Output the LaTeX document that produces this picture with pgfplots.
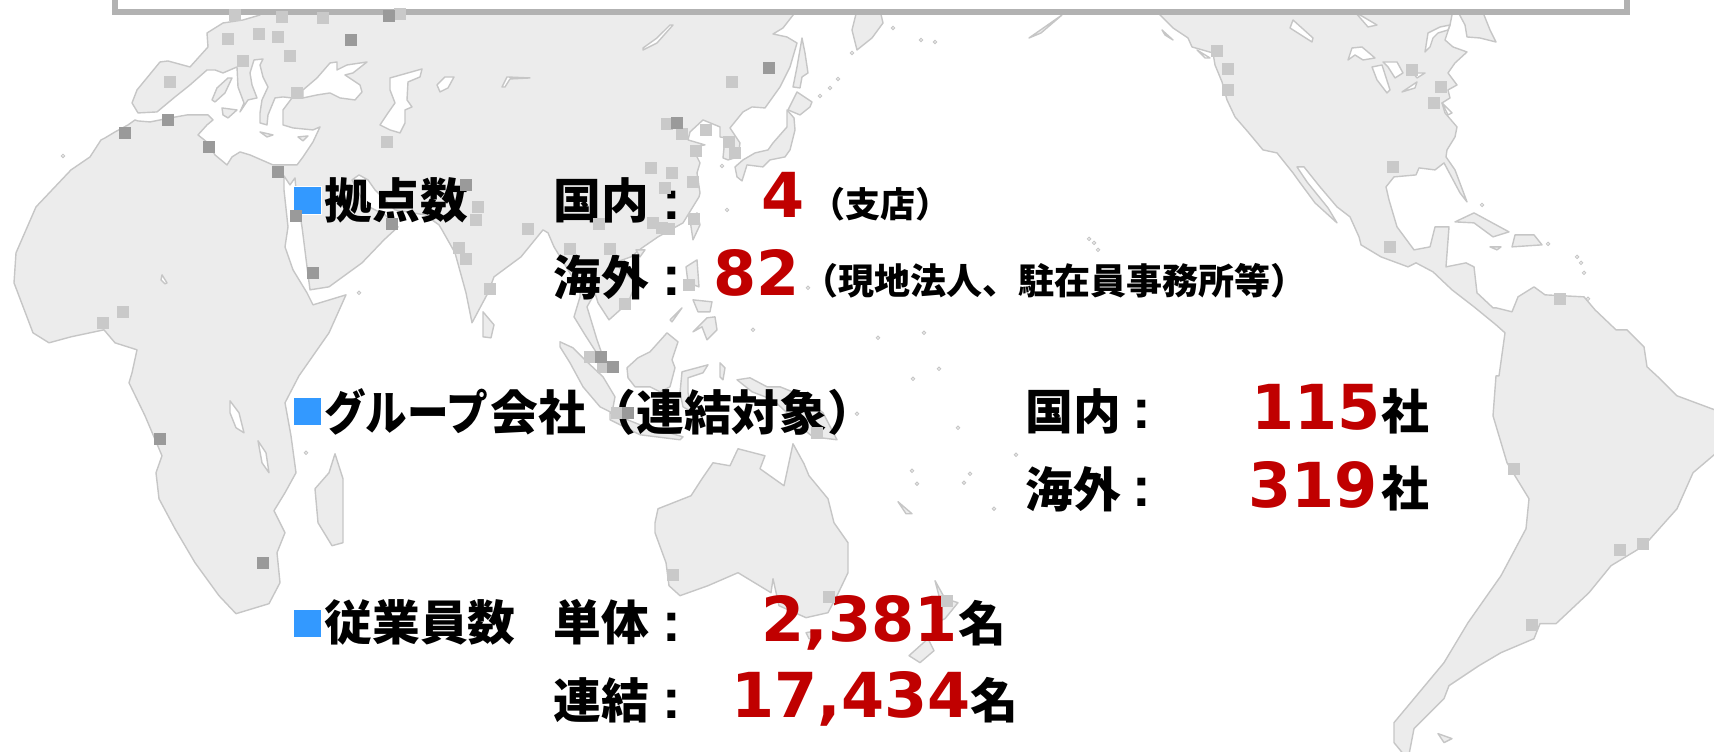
\documentclass[border=0pt]{standalone}
\usepackage{fontspec}
\usepackage{pgfplots}
\pgfplotsset{compat=1.18}
\newfontfamily\cjk{Noto Sans CJK JP}[BoldFont=* Black]
\newfontfamily\num{DejaVu Sans}
\newfontfamily\lat{Liberation Sans}
\definecolor{landc}{HTML}{ECECEC}
\definecolor{edgec}{HTML}{C6C6C6}
\definecolor{sqlight}{HTML}{C9C9C9}
\definecolor{sqdark}{HTML}{9A9A9A}
\definecolor{boxc}{HTML}{B2B2B2}
\definecolor{bluec}{HTML}{3399FF}
\definecolor{redc}{HTML}{C00000}
\newcommand{\KL}[3]{\node[anchor=base west,inner sep=0pt,text=black] at (axis cs:#1,#2) {\fontsize{23.9}{24}\cjk\bfseries #3};}
\newcommand{\KLK}[3]{\node[anchor=base west,inner sep=0pt,text=black,xscale=0.87] at (axis cs:#1,#2) {\fontsize{23.9}{24}\cjk\bfseries #3};}
\newcommand{\KST}[4]{\node[anchor=base west,inner sep=0pt,text=black] at (axis cs:#1,#2) {\fontsize{#3}{18}\cjk\bfseries #4};}
\newcommand{\CO}[2]{\node[anchor=base west,inner sep=0pt,text=black] at (axis cs:#1,#2) {\fontsize{28}{28}\lat\bfseries :};}
\newcommand{\NR}[3]{\node[anchor=base west,inner sep=0pt,text=redc] at (axis cs:#1,#2) {\fontsize{31}{31}\num\bfseries #3};}
\pgfplotsset{land/.style={fill=landc,draw=edgec,line width=0.7pt,line join=round,forget plot},
 hole/.style={fill=white,draw=edgec,line width=0.7pt,line join=round,forget plot}}
\begin{document}
\begin{tikzpicture}
\begin{axis}[hide axis,scale only axis,width=857pt,height=375.8pt,xmin=0,xmax=1714,ymin=0,ymax=752,y dir=reverse,clip=true]
% Eurasia + Africa
\addplot[land] coordinates {(797,10)(783,28)(773,34)(787,37)(797,43)(790,67)(780,87)(765,108)(752,107)(743,112)(730,128)(740,143)(738,157)(728,160)(723,158)(725,138)(720,137)(720,127)(703,120)(690,132)(688,140)(705,145)(692,147)(700,163)(697,173)(700,193)(699,197)(683,223)(658,237)(642,248)(631,257)(614,263)(636,283)(628,303)(609,320)(598,303)(595,293)(587,307)(597,340)(603,357)(603,363)(585,335)(574,317)(580,297)(580,283)(576,283)(554,247)(548,233)(543,230)(521,257)(494,277)(488,293)(472,323)(466,293)(455,253)(442,230)(439,225)(425,215)(395,210)(375,190)(368,180)(359,175)(352,180)(365,205)(385,215)(398,227)(384,240)(362,263)(329,287)(310,290)(307,267)(302,227)(296,190)(295,178)(290,185)(284,176)(284,190)(288,227)(285,247)(293,270)(307,293)(313,305)(346,295)(329,333)(299,376)(285,403)(291,436)(296,473)(285,493)(274,511)(285,533)(277,553)(280,583)(269,604)(236,614)(219,596)(195,563)(175,529)(159,499)(156,473)(162,456)(145,416)(129,383)(132,373)(137,350)(115,343)(104,330)(71,337)(49,343)(33,333)(14,283)(16,253)(36,207)(71,170)(90,157)(101,140)(105,138)(115,132)(128,125)(135,120)(138,121)(150,122)(170,118)(187,115)(208,115)(213,120)(207,125)(198,135)(208,143)(215,155)(227,165)(232,157)(240,152)(250,155)(273,165)(297,165)(303,157)(313,142)(320,127)(313,130)(293,128)(283,125)(283,110)(292,98)(283,97)(275,98)(268,115)(267,125)(260,123)(260,113)(262,100)(268,87)(263,77)(260,65)(263,59)(254,60)(250,73)(252,85)(257,98)(248,100)(240,112)(244,103)(238,87)(237,67)(223,73)(215,70)(207,70)(190,85)(175,97)(157,112)(138,113)(132,103)(137,90)(160,62)(168,61)(190,67)(208,47)(207,33)(223,23)(243,20)(260,15)(260,10)} -- cycle;
% inland seas and lakes
\addplot[hole] coordinates {(303,90)(317,78)(330,63)(337,62)(337,70)(347,65)(367,62)(353,73)(345,75)(360,85)(362,92)(355,100)(340,98)(330,93)(317,95)(303,98)} -- cycle;
\addplot[hole] coordinates {(390,78)(422,69)(420,77)(408,82)(407,100)(412,107)(405,110)(405,123)(400,133)(390,130)(380,125)(388,113)(395,103)(390,90)} -- cycle;
\addplot[hole] coordinates {(437,85)(445,77)(454,77)(448,88)(440,92)} -- cycle;
\addplot[hole] coordinates {(502,87)(507,77)(530,78)(510,79)(505,87)} -- cycle;
\addplot[hole] coordinates {(643,50)(657,43)(673,25)(670,25)(657,38)(643,48)} -- cycle;
\addplot[hole] coordinates {(230,401)(239,413)(244,433)(236,428)(230,413)} -- cycle;
\addplot[hole] coordinates {(258,441)(266,453)(269,473)(262,463)} -- cycle;
\addplot[hole] coordinates {(162,275)(167,283)(165,284)(161,280)} -- cycle;
% Mediterranean islands
\addplot[land] coordinates {(212,100)(217,88)(228,78)(232,78)(225,93)(215,102)} -- cycle;
\addplot[land] coordinates {(222,108)(237,110)(228,118)(223,115)} -- cycle;
\addplot[land] coordinates {(260,132)(273,135)(267,137)} -- cycle;
\addplot[land] coordinates {(298,137)(308,136)(303,141)} -- cycle;
% Japan, Sakhalin, Kamchatka
\addplot[land] coordinates {(735,167)(743,160)(755,153)(768,150)(773,143)(787,127)(787,110)(794,118)(795,130)(790,150)(785,157)(770,160)(763,167)(747,165)(742,181)(737,177)} -- cycle;
\addplot[land] coordinates {(788,110)(797,92)(812,102)(810,107)(800,115)} -- cycle;
\addplot[land] coordinates {(793,87)(797,67)(802,38)(805,53)(808,73)(802,77)(800,88)} -- cycle;
\addplot[land] coordinates {(857,10)(852,30)(857,50)(872,38)(883,23)(880,10)} -- cycle;
% Taiwan, Hainan, Sri Lanka
\addplot[land] coordinates {(690,220)(697,213)(700,225)(693,240)} -- cycle;
\addplot[land] coordinates {(636,250)(645,250)(640,257)} -- cycle;
\addplot[land] coordinates {(483,312)(494,325)(491,338)(483,337)} -- cycle;
% Philippines, Indonesia
\addplot[land] coordinates {(686,267)(697,260)(699,287)(688,283)} -- cycle;
\addplot[land] coordinates {(693,300)(712,302)(710,312)(698,312)} -- cycle;
\addplot[land] coordinates {(693,332)(707,318)(715,317)(717,330)(707,340)(702,327)} -- cycle;
\addplot[land] coordinates {(670,320)(682,308)(672,322)} -- cycle;
\addplot[land] coordinates {(560,342)(573,348)(587,362)(603,377)(615,397)(612,413)(600,407)(583,387)(570,363)(560,347)} -- cycle;
\addplot[land] coordinates {(610,413)(640,425)(683,437)(680,440)(640,435)(610,420)} -- cycle;
\addplot[land] coordinates {(627,368)(638,358)(650,352)(667,333)(678,342)(672,360)(675,368)(670,387)(660,392)(650,387)(635,387)(628,378)} -- cycle;
\addplot[land] coordinates {(680,393)(682,372)(708,365)(703,373)(688,378)(688,393)(693,413)(683,407)} -- cycle;
\addplot[land] coordinates {(737,380)(750,378)(767,387)(780,387)(800,395)(823,413)(837,440)(813,437)(800,427)(787,413)(773,400)(752,392)} -- cycle;
\addplot[land] coordinates {(720,363)(725,368)(723,380)(720,377)} -- cycle;
% Australia, Tasmania, NZ, Madagascar
\addplot[land] coordinates {(655,523)(658,509)(691,496)(702,479)(713,463)(730,466)(738,449)(765,456)(760,469)(784,486)(793,444)(804,464)(809,476)(828,499)(834,523)(848,543)(848,573)(837,596)(828,613)(806,618)(779,606)(773,579)(771,593)(738,573)(708,586)(680,596)(669,586)(666,563)(655,533)} -- cycle;
\addplot[land] coordinates {(806,633)(817,631)(817,641)(809,639)} -- cycle;
\addplot[land] coordinates {(935,581)(945,599)(958,603)(945,619)(936,623)(940,600)} -- cycle;
\addplot[land] coordinates {(928,639)(909,656)(920,663)(934,651)} -- cycle;
\addplot[land] coordinates {(898,502)(912,514)(906,514)} -- cycle;
\addplot[land] coordinates {(335,454)(343,479)(343,543)(332,546)(318,523)(315,489)(329,473)} -- cycle;
% Aleutians etc
\addplot[land] coordinates {(1029,38)(1062,15)(1041,33)} -- cycle;
\addplot[land] coordinates {(1162,30)(1173,40)(1165,35)} -- cycle;
% Americas
\addplot[land] coordinates {(1155,10)(1173,28)(1188,38)(1192,47)(1213,53)(1215,65)(1222,82)(1227,100)(1235,117)(1248,132)(1263,150)(1277,153)(1293,173)(1298,180)(1315,203)(1337,223)(1328,208)(1307,182)(1297,167)(1304,167)(1320,187)(1337,207)(1350,217)(1359,237)(1361,245)(1381,257)(1408,267)(1416,263)(1433,272)(1452,290)(1474,307)(1496,325)(1505,333)(1499,376)(1496,376)(1493,416)(1507,463)(1529,499)(1526,529)(1501,576)(1468,623)(1444,663)(1419,693)(1394,723)(1394,743)(1408,760)(1414,729)(1444,699)(1449,686)(1479,666)(1501,653)(1534,639)(1540,624)(1556,624)(1589,593)(1611,566)(1644,546)(1677,509)(1693,473)(1720,450)(1720,412)(1677,396)(1660,379)(1647,367)(1644,347)(1627,330)(1616,330)(1595,310)(1584,297)(1545,295)(1534,287)(1518,297)(1512,312)(1496,308)(1493,308)(1477,293)(1474,267)(1466,263)(1446,267)(1449,227)(1435,227)(1430,247)(1414,250)(1397,227)(1389,200)(1386,187)(1394,177)(1416,175)(1419,168)(1435,170)(1444,163)(1460,193)(1467,202)(1455,170)(1446,157)(1447,150)(1455,137)(1457,127)(1445,113)(1442,103)(1450,98)(1448,90)(1457,85)(1448,73)(1455,63)(1467,52)(1453,47)(1445,40)(1450,25)(1453,10)} -- cycle;
\addplot[land] coordinates {(1457,10)(1465,25)(1467,37)(1480,38)(1496,42)(1490,30)(1482,10)} -- cycle;
% lakes of North America
\addplot[hole] coordinates {(1425,52)(1428,33)(1440,27)(1450,25)(1448,30)(1438,33)(1433,38)(1430,47)} -- cycle;
\addplot[hole] coordinates {(1348,60)(1352,48)(1362,47)(1375,58)(1363,60)(1355,55)} -- cycle;
\addplot[hole] coordinates {(1372,67)(1382,65)(1390,90)(1387,93)(1377,80)} -- cycle;
\addplot[hole] coordinates {(1383,62)(1397,62)(1403,73)(1395,78)(1388,67)} -- cycle;
\addplot[hole] coordinates {(1413,73)(1425,73)(1417,78)} -- cycle;
\addplot[hole] coordinates {(1402,92)(1417,82)(1415,88)} -- cycle;
\addplot[hole] coordinates {(1290,28)(1293,20)(1313,38)(1312,42)} -- cycle;
\addplot[hole] coordinates {(1355,12)(1377,25)(1368,27)} -- cycle;
\addplot[hole] coordinates {(1197,50)(1210,58)(1205,58)} -- cycle;
\addplot[hole] coordinates {(1442,103)(1452,113)(1448,115)} -- cycle;
% Caribbean, Falklands
\addplot[land] coordinates {(1455,222)(1474,213)(1509,232)(1493,237)(1474,223)} -- cycle;
\addplot[land] coordinates {(1515,235)(1534,235)(1542,245)(1512,247)} -- cycle;
\addplot[land] coordinates {(1490,247)(1501,247)(1497,250)} -- cycle;
\addplot[land] coordinates {(1438,734)(1452,739)(1444,743)} -- cycle;
% small islands
\addplot[only marks,mark=*,mark size=0.9pt,mark options={fill=landc,draw=edgec,line width=0.4pt},forget plot] coordinates {(893,28)(921,40)(935,42)(852,53)(838,79)(830,88)(820,96)(1098,250)(1089,239)(1094,243)(1482,205)(1577,257)(1581,263)(1584,273)(1588,299)(1548,244)(924,333)(878,338)(939,369)(857,414)(958,428)(1016,455)(912,471)(917,484)(964,483)(970,474)(994,509)(306,453)(727,210)(808,288)(753,330)(913,379)(359,293)(63,156)(722,166)};
% office squares, light
\addplot[only marks,mark=square*,mark size=2.75pt,mark options={fill=sqlight,draw=sqlight,line width=0pt},forget plot] coordinates {(235,15)(228,39)(259,34)(278,37)(282,17)(323,18)(290,56)(243,61)(170,82)(297,93)(387,142)(400,14)(732,82)(667,124)(682,134)(706,130)(696,151)(729,142)(735,153)(651,168)(672,173)(693,182)(665,188)(478,207)(476,220)(528,229)(599,224)(653,223)(662,228)(669,229)(694,219)(570,249)(610,249)(459,248)(466,259)(490,289)(625,304)(123,312)(103,323)(590,357)(603,367)(689,285)(617,413)(817,433)(673,575)(829,597)(947,601)(1514,469)(1620,550)(1643,544)(1532,625)(1217,51)(1228,69)(1228,90)(1412,70)(1441,87)(1434,103)(1393,167)(1390,247)(1560,299)};
% office squares, dark
\addplot[only marks,mark=square*,mark size=2.75pt,mark options={fill=sqdark,draw=sqdark,line width=0pt},forget plot] coordinates {(389,16)(351,40)(168,120)(125,133)(209,147)(278,172)(769,68)(677,123)(466,185)(392,224)(296,216)(313,273)(601,357)(613,367)(628,413)(160,439)(263,563)};
% frame at the top
\addplot[fill=boxc,draw=none,forget plot] coordinates {(112,-5)(1630,-5)(1630,15)(112,15)} -- cycle;
\addplot[fill=white,draw=none,forget plot] coordinates {(118,-5)(1624,-5)(1624,9)(118,9)} -- cycle;
% blue bullets
\addplot[fill=bluec,draw=white,line width=0.5pt,forget plot] coordinates {(293,187)(321,187)(321,215)(293,215)} -- cycle;
\addplot[fill=bluec,draw=white,line width=0.5pt,forget plot] coordinates {(293,398)(321,398)(321,426)(293,426)} -- cycle;
\addplot[fill=bluec,draw=white,line width=0.5pt,forget plot] coordinates {(293,610)(321,610)(321,638)(293,638)} -- cycle;
% text
\KL{324}{219}{拠点数}
\KL{553}{219}{国内}\CO{662}{220}
\NR{761}{218}{4}
\KST{810}{218}{17.5}{（支店）}
\KL{553}{296}{海外}\CO{662}{296}
\NR{713}{296}{82}
\KST{802}{295}{18}{（現地法人、駐在員事務所等）}
\KLK{324}{431}{グループ}
\KL{490}{431}{会社}
\KL{588}{431}{（連結対象）}
\KL{1025}{430}{国内}\CO{1132}{429}
\NR{1251}{430}{115}
\KL{1381}{430}{社}
\KL{1025}{508}{海外}\CO{1132}{507}
\NR{1248}{508}{319}
\KL{1381}{507}{社}
\KL{324}{641}{従業員数}
\KL{553}{641}{単体}\CO{662}{642}
\NR{761}{642}{2,381}
\KL{958}{642}{名}
\KL{553}{719}{連結}\CO{662}{719}
\NR{731}{718}{17,434}
\KL{970}{719}{名}
\end{axis}
\pgfresetboundingbox
\path (current axis.south west) rectangle (current axis.north east);
\end{tikzpicture}
\end{document}
